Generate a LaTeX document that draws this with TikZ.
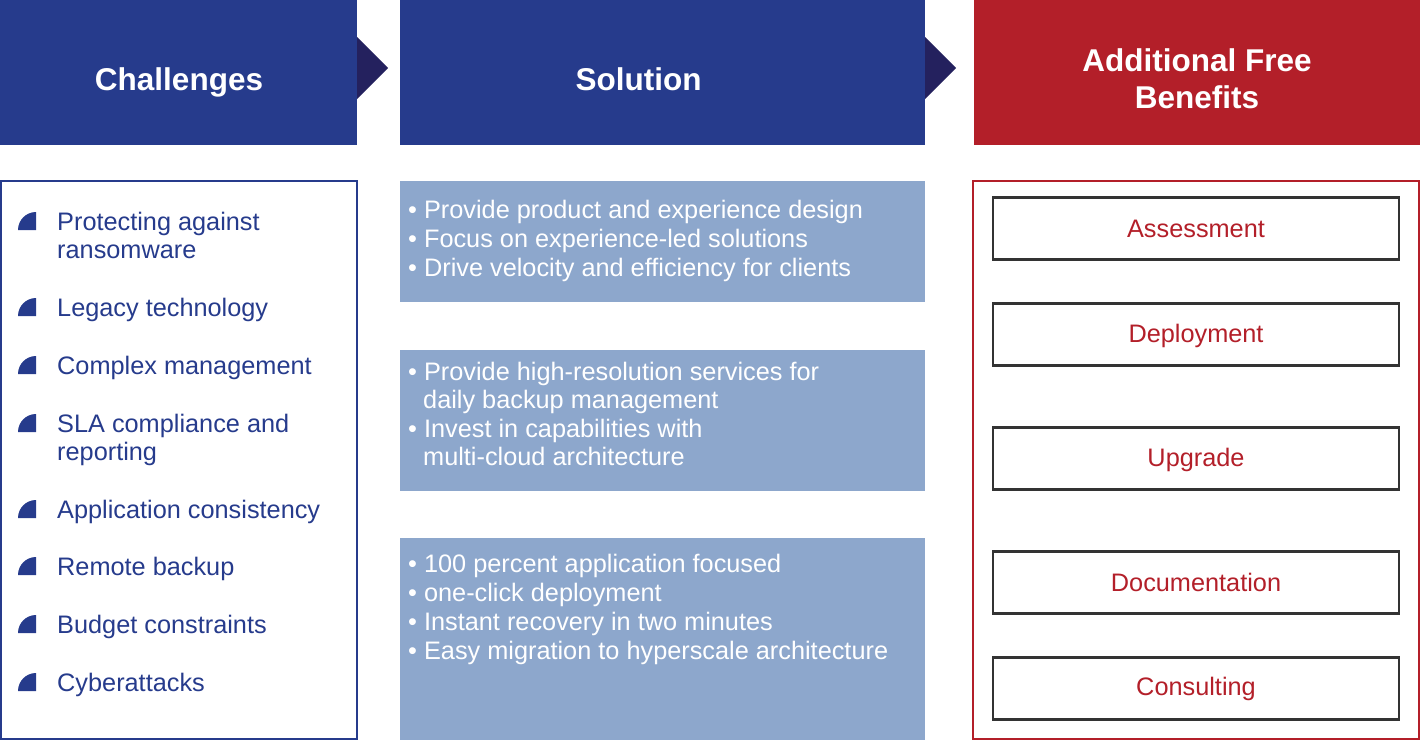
\documentclass[tikz,border=0pt]{standalone}
\usepackage{fontspec}
\setmainfont{Liberation Sans}
\definecolor{hblue}{HTML}{263B8C}
\definecolor{tnavy}{HTML}{24215E}
\definecolor{hred}{HTML}{B31F29}
\definecolor{sblue}{HTML}{8DA7CC}
\definecolor{bgray}{HTML}{333333}
\begin{document}
\begin{tikzpicture}[x=1pt,y=-1pt,
  hdr/.style={rectangle, inner sep=0pt, draw=none},
  hdrtext/.style={anchor=base, text=white, inner sep=0pt, font=\fontsize{31.5}{38}\selectfont\bfseries, align=center},
  chtext/.style={anchor=base west, text=hblue, inner sep=0pt, font=\fontsize{25.3}{29}\selectfont},
  sotext/.style={anchor=base west, text=white, inner sep=0pt, font=\fontsize{25.3}{29}\selectfont},
  benbox/.style={rectangle, draw=bgray, line width=2.4pt, minimum width=406pt, minimum height=62pt, inner sep=0pt},
  bentext/.style={anchor=base, text=hred, inner sep=0pt, font=\fontsize{25.3}{29}\selectfont},
  tri/.style={fill=tnavy},
  icon/.style={fill=hblue}
]
\useasboundingbox (0,0) rectangle (1420,740);

% headers
\node[hdr, fill=hblue, minimum width=357pt, minimum height=145pt] (chal) at (178.5,72.5) {};
\node[hdr, fill=hblue, minimum width=525pt, minimum height=145pt] (solu) at (662.5,72.5) {};
\node[hdr, fill=hred, minimum width=446pt, minimum height=145pt] (bene) at (1197,72.5) {};
\node[hdrtext] (chalt) at (179,90) {Challenges};
\node[hdrtext] (solut) at (638.5,90) {Solution};
\node[hdrtext] (benet1) at (1197,71) {Additional Free};
\node[hdrtext] (benet2) at (1197,108) {Benefits};

% arrow triangles
\fill[tri] (357,37) -- (388,68) -- (357,99) -- cycle;
\fill[tri] (925,37) -- (956,68) -- (925,99) -- cycle;

% challenges box
\node[rectangle, draw=hblue, line width=2pt, minimum width=356pt, minimum height=558pt, inner sep=0pt] (chbox) at (179,460) {};
\foreach \b/\t [count=\i] in {230/Protecting against, 316/Legacy technology, 374/Complex management, 432/SLA compliance and, 518/Application consistency, 575/Remote backup, 633/Budget constraints, 691/Cyberattacks}{
  \fill[icon] (18,\b) arc[start angle=180, end angle=270, radius=18] -- (36,\b) -- cycle;
  \node[chtext] (ch\i) at (57,\b) {\t};
}
\node[chtext] (ch1b) at (57,258) {ransomware};
\node[chtext] (ch4b) at (57,460) {reporting};

% solution boxes
\node[rectangle, fill=sblue, minimum width=525pt, minimum height=121pt, inner sep=0pt] (s1) at (662.5,241.5) {};
\node[rectangle, fill=sblue, minimum width=525pt, minimum height=141pt, inner sep=0pt] (s2) at (662.5,420.5) {};
\node[rectangle, fill=sblue, minimum width=525pt, minimum height=202pt, inner sep=0pt] (s3) at (662.5,639) {};

\node[sotext] (s1a) at (408,218) {\textbullet\ Provide product and experience design};
\node[sotext] (s1b) at (408,247) {\textbullet\ Focus on experience-led solutions};
\node[sotext] (s1c) at (408,276) {\textbullet\ Drive velocity and efficiency for clients};

\node[sotext] (s2a) at (408,380) {\textbullet\ Provide high-resolution services for};
\node[sotext] (s2b) at (423,408.5) {daily backup management};
\node[sotext] (s2c) at (408,437) {\textbullet\ Invest in capabilities with};
\node[sotext] (s2d) at (423,465.5) {multi-cloud architecture};

\node[sotext] (s3a) at (408,572) {\textbullet\ 100 percent application focused};
\node[sotext] (s3b) at (408,601) {\textbullet\ one-click deployment};
\node[sotext] (s3c) at (408,630) {\textbullet\ Instant recovery in two minutes};
\node[sotext] (s3d) at (408,659) {\textbullet\ Easy migration to hyperscale architecture};

% benefits box
\node[rectangle, draw=hred, line width=2pt, minimum width=446pt, minimum height=558pt, inner sep=0pt] (bnbox) at (1196,460) {};
\node[benbox] (b1) at (1196,228.5) {};
\node[benbox] (b2) at (1196,334.5) {};
\node[benbox] (b3) at (1196,458.5) {};
\node[benbox] (b4) at (1196,582.5) {};
\node[benbox] (b5) at (1196,688.5) {};
\node[bentext] (b1t) at (1196,237) {Assessment};
\node[bentext] (b2t) at (1196,342) {Deployment};
\node[bentext] (b3t) at (1196,466) {Upgrade};
\node[bentext] (b4t) at (1196,591) {Documentation};
\node[bentext] (b5t) at (1196,695) {Consulting};
\end{tikzpicture}
\end{document}
